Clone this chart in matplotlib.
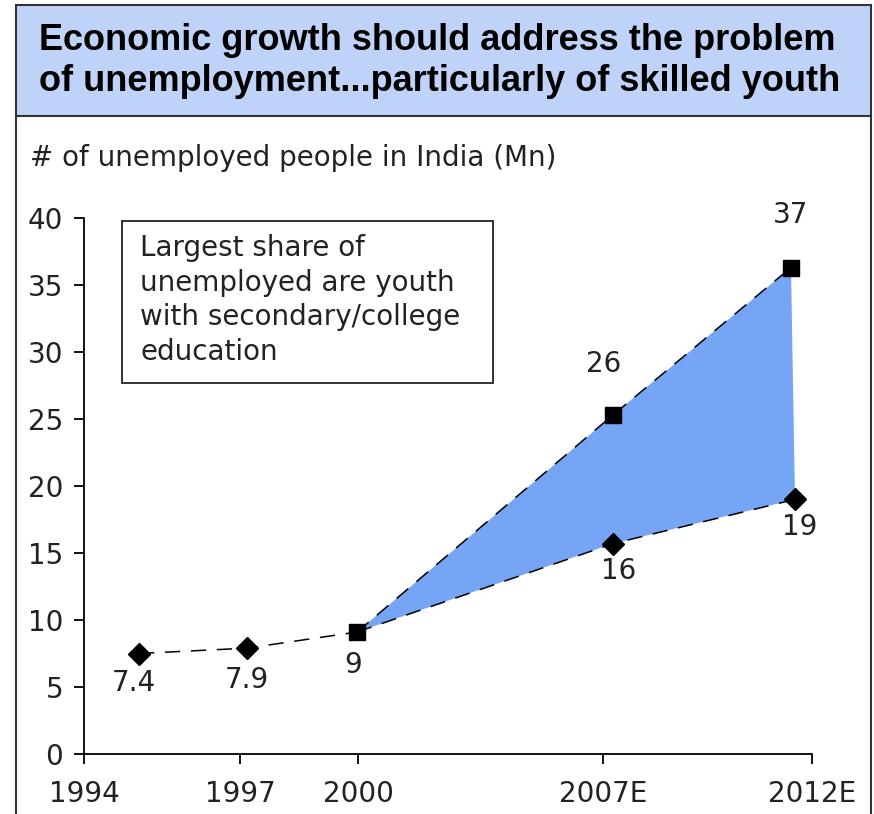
import matplotlib
matplotlib.use("Agg")
import matplotlib.pyplot as plt
from matplotlib.patches import Rectangle
from matplotlib.lines import Line2D

plt.rcParams['font.family'] = ['DejaVu Sans']

# x positions are in arbitrary slot units (axis is not a true year scale)
tick_pos = [0, 15.6, 27.4, 51.9, 72.8]
tick_labels = ["1994", "1997", "2000", "2007E", "2012E"]

hist_x = [5.5, 16.3, 27.3]
hist_y = [7.5, 7.9, 9.1]
hist_lbl = ["7.4", "7.9", "9"]

upper_x = [27.3, 52.9, 70.7]
upper_y = [9.1, 25.3, 36.3]
upper_lbl = ["", "26", "37"]

lower_x = [27.3, 52.9, 71.1]
lower_y = [9.1, 15.7, 19.0]
lower_lbl = ["", "16", "19"]

fig = plt.figure(figsize=(8.74, 8.14), dpi=100)
W, H = 874, 814

def fx(px):
    return px / W

def fy(py):
    return 1 - py / H

# outer frame and title box
fig.add_artist(Rectangle((fx(16), fy(116)), fx(871) - fx(16), fy(5) - fy(116),
                         transform=fig.transFigure, facecolor="#bfd3f8",
                         edgecolor="#333333", lw=1.5))
fig.add_artist(Line2D([fx(16), fx(16)], [fy(116), 0], transform=fig.transFigure,
                      color="#333333", lw=1.5))
fig.add_artist(Line2D([fx(871), fx(871)], [fy(116), 0], transform=fig.transFigure,
                      color="#333333", lw=1.5))
fig.text(fx(39), fy(61), "Economic growth should address the problem\nof unemployment...particularly of skilled youth",
         ha="left", va="center", fontsize=26, fontweight="bold", linespacing=1.22,
         family="Liberation Sans")
fig.text(fx(30), fy(158), "# of unemployed people in India (Mn)", ha="left", va="center",
         fontsize=20, color="#222222")

ax = fig.add_axes([fx(84), fy(754), fx(812) - fx(84), fy(218) - fy(754)])
ax.set_xlim(tick_pos[0], tick_pos[-1])
ax.set_ylim(0, 40)

ax.fill(upper_x + lower_x[::-1], upper_y + lower_y[::-1], color="#77a5f5", lw=0, zorder=1)

dash = dict(color="black", lw=1.1, dashes=(10, 7), zorder=2)
ax.plot(hist_x, hist_y, **dash)
ax.plot(upper_x, upper_y, **dash)
ax.plot(lower_x, lower_y, **dash)

ax.plot(hist_x[:2], hist_y[:2], "D", color="black", ms=11, zorder=3, ls="none")
ax.plot(lower_x[1:], lower_y[1:], "D", color="black", ms=11, zorder=3, ls="none")
ax.plot(upper_x, upper_y, "s", color="black", ms=11, zorder=3, ls="none")

lbl_style = dict(ha="center", va="center", fontsize=20, color="#222222",
                 textcoords="offset points")
ax.annotate(hist_lbl[0], (hist_x[0], hist_y[0]), xytext=(-4, -21), **lbl_style)
ax.annotate(hist_lbl[1], (hist_x[1], hist_y[1]), xytext=(0, -23), **lbl_style)
ax.annotate(hist_lbl[2], (hist_x[2], hist_y[2]), xytext=(-3, -24), **lbl_style)
ax.annotate(upper_lbl[1], (upper_x[1], upper_y[1]), xytext=(-6.5, 37), **lbl_style)
ax.annotate(upper_lbl[2], (upper_x[2], upper_y[2]), xytext=(0, 38), **lbl_style)
ax.annotate(lower_lbl[1], (lower_x[1], lower_y[1]), xytext=(4, -19.5), **lbl_style)
ax.annotate(lower_lbl[2], (lower_x[2], lower_y[2]), xytext=(3.6, -20), **lbl_style)

# note box
ax.add_patch(Rectangle((0.052, 0.692), 0.51, 0.302, transform=ax.transAxes,
                       facecolor="white", edgecolor="#222222", lw=1.3, zorder=4))
ax.text(0.077, 0.97, "Largest share of\nunemployed are youth\nwith secondary/college\neducation",
        transform=ax.transAxes, ha="left", va="top", fontsize=20, color="#222222",
        linespacing=1.3, zorder=5)

ax.set_xticks(tick_pos)
ax.set_xticklabels(tick_labels)
ax.set_yticks(range(0, 41, 5))
ax.tick_params(labelsize=20, labelcolor="#222222", length=7, width=1.3)
ax.tick_params(axis="y", pad=8)
ax.tick_params(axis="x", pad=12)
for s in ["top", "right"]:
    ax.spines[s].set_visible(False)
for s in ["left", "bottom"]:
    ax.spines[s].set_linewidth(1.3)

fig.savefig("out.png", dpi=100)
